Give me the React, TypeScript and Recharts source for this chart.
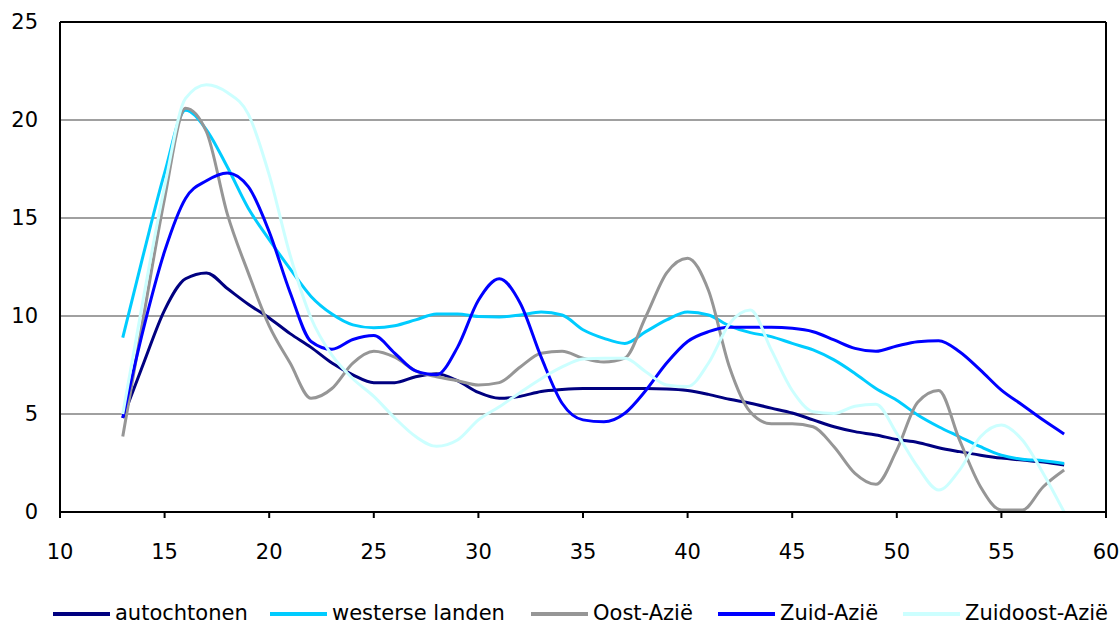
import React from 'react';
import { LineChart, Line, XAxis, YAxis, CartesianGrid, ReferenceLine } from 'recharts';

const ages = [13, 14, 15, 16, 17, 18, 19, 20, 21, 22, 23, 24, 25, 26, 27, 28, 29, 30, 31, 32, 33, 34, 35, 36, 37, 38, 39, 40, 41, 42, 43, 44, 45, 46, 47, 48, 49, 50, 51, 52, 53, 54, 55, 56, 57, 58];

const autochtonen = [4.8, 7.6, 10.3, 11.9, 12.2, 11.4, 10.6, 9.9, 9.1, 8.4, 7.6, 7.0, 6.6, 6.6, 6.9, 7.05, 6.7, 6.1, 5.8, 5.9, 6.15, 6.25, 6.3, 6.3, 6.3, 6.3, 6.28, 6.2, 6.0, 5.75, 5.55, 5.3, 5.05, 4.7, 4.35, 4.1, 3.93, 3.7, 3.55, 3.28, 3.08, 2.9, 2.75, 2.65, 2.55, 2.4];

const westerseLanden = [8.9, 13.2, 17.3, 20.5, 19.5, 17.6, 15.5, 13.9, 12.4, 11.0, 10.1, 9.55, 9.4, 9.5, 9.8, 10.1, 10.1, 9.97, 9.95, 10.05, 10.2, 10.05, 9.3, 8.86, 8.6, 9.2, 9.8, 10.2, 10.05, 9.5, 9.15, 8.95, 8.6, 8.27, 7.76, 7.07, 6.3, 5.7, 4.95, 4.35, 3.84, 3.33, 2.9, 2.69, 2.62, 2.48];

const oostAzie = [3.85, 10.0, 16.0, 20.6, 19.4, 15.2, 12.2, 9.5, 7.6, 5.8, 6.3, 7.6, 8.2, 7.9, 7.2, 6.9, 6.7, 6.48, 6.6, 7.4, 8.1, 8.2, 7.85, 7.65, 7.85, 9.96, 12.2, 12.95, 11.3, 7.4, 5.1, 4.5, 4.5, 4.35, 3.33, 1.97, 1.41, 3.16, 5.6, 6.2, 3.67, 1.29, 0.1, 0.1, 1.29, 2.14];

const zuidAzie = [4.8, 9.4, 13.3, 16.0, 16.9, 17.3, 16.6, 14.3, 11.2, 8.7, 8.3, 8.8, 9.0, 8.1, 7.2, 7.0, 8.4, 10.8, 11.9, 10.65, 7.9, 5.55, 4.7, 4.6, 5.04, 6.2, 7.6, 8.7, 9.2, 9.42, 9.42, 9.42, 9.37, 9.2, 8.78, 8.35, 8.2, 8.47, 8.69, 8.74, 8.18, 7.24, 6.22, 5.46, 4.69, 3.98];

const zuidoostAzie = [5.0, 11.0, 16.6, 21.1, 21.8, 21.4, 20.3, 17.2, 13.1, 9.9, 8.0, 6.8, 5.9, 4.8, 3.85, 3.35, 3.67, 4.7, 5.37, 6.1, 6.8, 7.4, 7.8, 7.84, 7.84, 7.16, 6.48, 6.4, 7.6, 9.6, 10.3, 8.27, 6.2, 5.12, 5.03, 5.4, 5.5, 4.0, 2.3, 1.12, 2.14, 3.84, 4.44, 3.67, 1.97, 0];

const xTicks = [10, 15, 20, 25, 30, 35, 40, 45, 50, 55, 60];
const yTicks = [0, 5, 10, 15, 20, 25];

const seriesNames = ['autochtonen', 'westerse landen', 'Oost-Azië', 'Zuid-Azië', 'Zuidoost-Azië'];
const seriesKeys = ['autochtonen', 'westerse', 'oost', 'zuid', 'zuidoost'];
const seriesValues = [autochtonen, westerseLanden, oostAzie, zuidAzie, zuidoostAzie];
const seriesColors = ['#000080', '#00CCFF', '#969696', '#0000FF', '#CCFFFF'];

const data = ages.map((age, i) => {
  const row: Record<string, number> = { age };
  seriesKeys.forEach((k, j) => {
    row[k] = seriesValues[j][i];
  });
  return row;
});

const FONT = '"DejaVu Sans", sans-serif';
const legendItemWidths = [217, 261, 187, 185, 215];

export default function App() {
  return (
    <div style={{ position: 'absolute', left: 0, top: 0, width: 1120, height: 625, background: '#fff', overflow: 'hidden' }}>
      <LineChart
        width={1120}
        height={625}
        data={data}
        margin={{ top: 22, right: 14, bottom: 83, left: 0 }}
      >
        <CartesianGrid horizontal vertical={false} stroke="#808080" strokeWidth={1.5} />
        <XAxis
          dataKey="age"
          type="number"
          domain={[10, 60]}
          ticks={xTicks}
          interval={0}
          height={30}
          axisLine={{ stroke: '#000', strokeWidth: 2 }}
          tickLine={{ stroke: '#000', strokeWidth: 2 }}
          tickSize={6}
          tickMargin={26}
          tick={{ fill: '#000', fontSize: 21, fontFamily: FONT }}
        />
        <YAxis
          type="number"
          domain={[0, 25]}
          ticks={yTicks}
          interval={0}
          width={60}
          axisLine={{ stroke: '#000', strokeWidth: 2 }}
          tickLine={false}
          tickSize={0}
          tickMargin={22}
          tick={{ fill: '#000', fontSize: 21, fontFamily: FONT }}
        />
        <ReferenceLine y={25} stroke="#000" strokeWidth={2} />
        <ReferenceLine x={60} stroke="#000" strokeWidth={2} />
        {seriesKeys.map((k, i) => (
          <Line
            key={k}
            dataKey={k}
            name={seriesNames[i]}
            type="monotone"
            stroke={seriesColors[i]}
            strokeWidth={3}
            dot={false}
            activeDot={false}
            isAnimationActive={false}
          />
        ))}
      </LineChart>
      <div
        style={{
          position: 'absolute',
          left: 53,
          top: 601,
          display: 'flex',
          alignItems: 'center',
          fontFamily: FONT,
          fontSize: 21,
          lineHeight: '25px',
          color: '#000',
          whiteSpace: 'nowrap',
        }}
      >
        {seriesNames.map((name, i) => (
          <div key={name} style={{ display: 'flex', alignItems: 'center', width: legendItemWidths[i] }}>
            <div style={{ width: 57, height: 4, background: seriesColors[i], marginRight: 5, flexShrink: 0 }} />
            <span>{name}</span>
          </div>
        ))}
      </div>
    </div>
  );
}
